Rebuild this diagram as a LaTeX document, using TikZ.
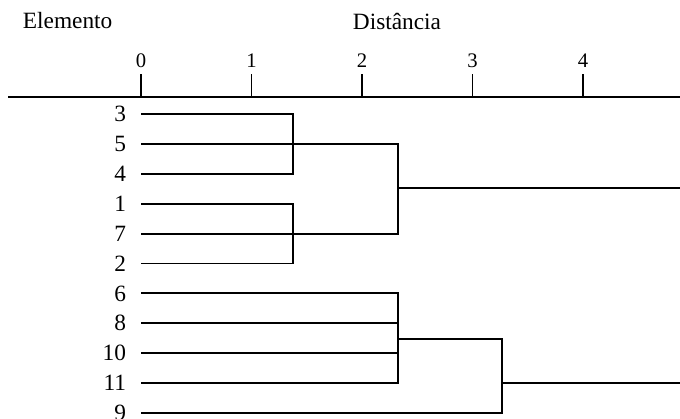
\documentclass[tikz,border=0pt]{standalone}
\usepackage{fontspec}
\setmainfont{Liberation Serif}
\begin{document}
\begin{tikzpicture}[x=0.75pt,y=-0.75pt,line width=1.4pt,
	elem/.style={anchor=east,inner sep=0pt,font=\fontsize{17.5}{18}\selectfont},
	head/.style={inner sep=0pt,font=\fontsize{17.5}{18}\selectfont},
	dist/.style={anchor=base,inner sep=0pt,font=\fontsize{15.5}{16}\selectfont}]
	\useasboundingbox (0,0) rectangle (680,418);
	
	\node[head,anchor=west] (elemento) at (22,21) {Elemento};
	\node[head] (distancia) at (397,21) {Distância};
	
	% distance axis
	\coordinate (axl) at (8,97);
	\coordinate (axr) at (680,97);
	\draw (axl) -- (axr);
	\foreach \d in {0,...,4} {
		\coordinate (t\d) at (141+110.5*\d,74);
		\draw (t\d) -- (t\d |- axl);
		\node[dist] (n\d) at (141+110.5*\d,67) {\d};
	}
	
	% leaves
	\foreach \e [count=\i from 0] in {3,5,4,1,7,2,6,8,10,11,9} {
		\node[elem] (e\e) at (127,114+29.9*\i) {\e};
		\coordinate (l\e) at (141,114+29.9*\i);
	}
	
	% joins
	\coordinate (a) at (293,0);
	\coordinate (b) at (398,0);
	\coordinate (c) at (502,0);
	\coordinate (r1) at (680,188);
	\coordinate (r2) at (680,383.1);
	\coordinate (m) at (502,339);
	
	\draw (l3) -| (a |- l5) |- (l4);
	\draw (l1) -| (a |- l7) |- (l2);
	\draw (l5) -| (b |- r1) |- (l7);
	\draw (b |- r1) -- (r1);
	\draw (l6) -| (b |- m) |- (l11);
	\draw (l8) -- (b |- l8);
	\draw (l10) -- (b |- l10);
	\draw (b |- m) -- (m) |- (l9);
	\draw (c |- r2) -- (r2);
\end{tikzpicture}
\end{document}
